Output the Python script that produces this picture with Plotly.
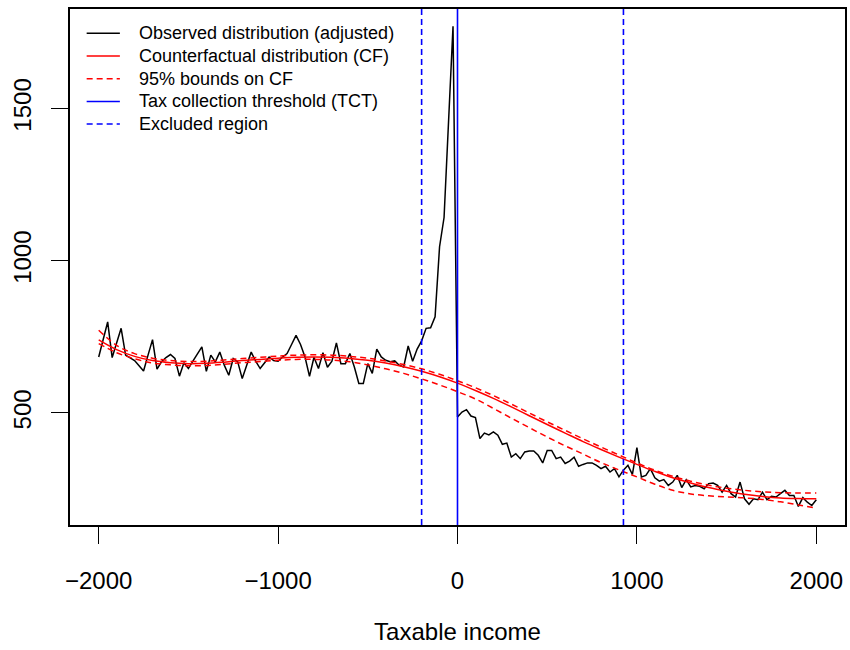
import plotly.graph_objects as go

# ---------------- data ----------------
bin_start = -2000
bin_width = 25
observed = [
    684, 742, 799, 682, 730, 778, 690, 680, 672, 655,   # -2000 .. -1775
    638, 690, 741, 644, 668, 682, 692, 679, 621, 665,   # -1750 .. -1525
    646, 670, 695, 717, 637, 690, 668, 700, 657, 624,   # -1500 .. -1275
    679, 668, 613, 655, 700, 670, 646, 665, 684, 672,   # -1250 .. -1025
    670, 684, 695, 725, 755, 725, 684, 620, 683, 646,   # -1000 .. -775
    698, 650, 670, 730, 662, 662, 695, 651, 597, 597,   # -750 .. -525
    662, 630, 710, 684, 673, 668, 671, 657, 651, 720,   # -500 .. -275
    670, 710, 737, 778, 780, 816, 1046, 1142, 1455, 1770,  # -250 .. -25
    487, 503, 511, 490, 485, 416, 434, 428, 438, 427,   # 0 .. 225
    397, 401, 355, 366, 350, 372, 375, 375, 361, 336,   # 250 .. 475
    377, 377, 350, 355, 334, 342, 355, 325, 331, 336,   # 500 .. 725
    336, 328, 317, 325, 306, 317, 290, 312, 328, 298,   # 750 .. 975
    386, 290, 295, 317, 287, 276, 281, 262, 273, 295,   # 1000 .. 1225
    255, 281, 257, 262, 259, 251, 268, 270, 262, 240,   # 1250 .. 1475
    262, 235, 224, 273, 218, 200, 218, 215, 240, 215,   # 1500 .. 1725
    226, 224, 235, 246, 229, 229, 193, 222, 207, 196,   # 1750 .. 1975
    215,                                                # 2000
]
obs_x = [bin_start + bin_width * i for i in range(len(observed))]

cf_x = list(range(-2000, 2001, 100))
cf = [740, 708, 686, 672, 665, 662, 663, 667, 672, 676,
      680, 683, 684, 683, 679, 673, 664, 652, 637, 619,
      598, 574, 548, 520, 491, 462, 434, 406, 380, 355,
      331, 308, 287, 270, 255, 243, 233, 226, 221, 219, 218]
cf_upper = [772, 722, 695, 680, 672, 669, 670, 674, 679, 683,
            687, 690, 691, 690, 686, 680, 671, 659, 645, 627,
            606, 583, 557, 529, 500, 471, 443, 415, 388, 362,
            336, 312, 292, 276, 263, 253, 246, 241, 238, 237, 237]
cf_lower = [728, 698, 678, 664, 658, 655, 656, 660, 665, 669,
            673, 676, 676, 674, 668, 658, 645, 630, 612, 592,
            570, 546, 515, 483, 452, 421, 392, 365, 337, 313,
            290, 266, 246, 234, 228, 224, 221, 216, 208, 198, 187]

tct = 0
excluded = [-200, 925]

x_ticks = [-2000, -1000, 0, 1000, 2000]
y_ticks = [500, 1000, 1500]
x_range = [-2160, 2160]
y_range = [132, 1827]

legend_names = ["Observed distribution (adjusted)",
                "Counterfactual distribution (CF)",
                "95% bounds on CF",
                "Tax collection threshold (TCT)",
                "Excluded region"]
x_title = "Taxable income"

# ---------------- figure ----------------
FONT = "Liberation Sans, Arial, Helvetica, sans-serif"
DASH = "6px,4px"
styles = [("black", "solid"), ("red", "solid"), ("red", DASH),
          ("blue", "solid"), ("blue", DASH)]

fig = go.Figure()
fig.add_trace(go.Scatter(x=obs_x, y=observed, mode="lines",
                         line=dict(color="black", width=1.5),
                         name=legend_names[0]))
fig.add_trace(go.Scatter(x=cf_x, y=cf, mode="lines",
                         line=dict(color="red", width=1.5, shape="spline"),
                         name=legend_names[1]))
fig.add_trace(go.Scatter(x=cf_x, y=cf_upper, mode="lines",
                         line=dict(color="red", width=1.5, dash=DASH, shape="spline"),
                         name=legend_names[2]))
fig.add_trace(go.Scatter(x=cf_x, y=cf_lower, mode="lines",
                         line=dict(color="red", width=1.5, dash=DASH, shape="spline"),
                         name=legend_names[2]))
fig.add_trace(go.Scatter(x=[tct, tct], y=y_range, mode="lines",
                         line=dict(color="blue", width=1.6),
                         name=legend_names[3]))
ex_x, ex_y = [], []
for e in excluded:
    ex_x += [e, e, None]
    ex_y += [y_range[0], y_range[1], None]
fig.add_trace(go.Scatter(x=ex_x, y=ex_y, mode="lines",
                         line=dict(color="blue", width=1.6, dash=DASH),
                         name=legend_names[4]))

# R-style legend (no box) in the top-left corner of the plot region
PLOT_L, PLOT_W, PLOT_T, PLOT_H = 70, 777, 9, 516
def px_x(p):
    return (p - PLOT_L) / PLOT_W
def px_y(p):
    return 1 - (p - PLOT_T) / PLOT_H

row0, row_step = 33.3, 22.7
for i, (name, (col, ds)) in enumerate(zip(legend_names, styles)):
    yy = px_y(row0 + i * row_step)
    fig.add_shape(type="line", xref="paper", yref="paper",
                  x0=px_x(86.7), x1=px_x(120), y0=yy, y1=yy,
                  line=dict(color=col, width=1.5, dash=ds))
    fig.add_annotation(xref="paper", yref="paper", x=px_x(137), y=yy,
                       xanchor="left", yanchor="middle", showarrow=False,
                       text=name, font=dict(family=FONT, size=18, color="black"))

axis_common = dict(showgrid=False, zeroline=False, showline=True, mirror=True,
                   linecolor="black", linewidth=1.5, ticks="outside",
                   ticklen=17, tickwidth=1, tickcolor="black",
                   tickfont=dict(family=FONT, size=24, color="black"))

fig.update_layout(
    width=850, height=650,
    margin=dict(l=70, r=3, t=9, b=125),
    paper_bgcolor="white", plot_bgcolor="white",
    font=dict(family=FONT, color="black"),
    showlegend=False,
    xaxis=dict(range=x_range, tickvals=x_ticks, ticklabelstandoff=16,
               title=dict(text=x_title, font=dict(family=FONT, size=24, color="black"),
                          standoff=31),
               **axis_common),
    yaxis=dict(range=y_range, tickvals=y_ticks, tickangle=-90, ticklabelstandoff=11,
               **axis_common),
)

fig.write_html("out.html")
